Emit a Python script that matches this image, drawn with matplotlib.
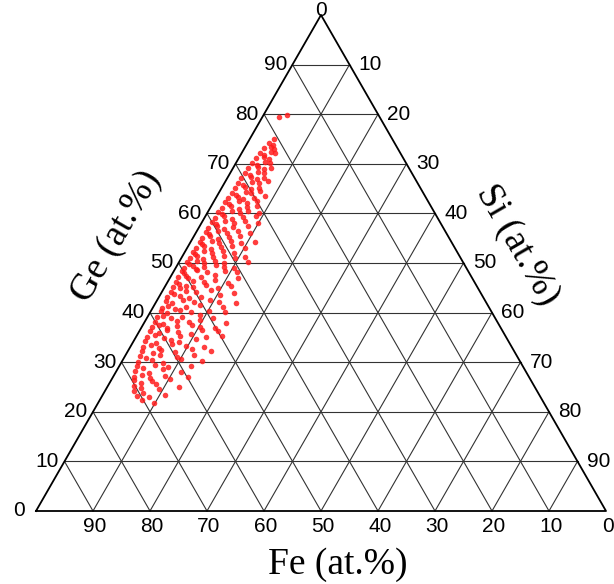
import numpy as np
import matplotlib
matplotlib.use("Agg")
import matplotlib.pyplot as plt

# compositions (at.%), Fe = 100 - Ge - Si
ge_pct = [22.3, 21.8,
          23.1, 22.9, 23.4,
          24.2, 23.7, 24.5,
          25.3, 24.8, 25.6, 25.1,
          26.4, 25.9, 26.2, 26.7,
          27.1, 27.5, 26.8, 27.3, 27.0,
          28.2, 27.9, 28.6, 28.1,
          29.3, 28.8, 29.5, 29.0, 29.2,
          30.1, 30.4, 29.8, 30.6, 30.2,
          31.2, 30.9, 31.5, 31.1, 31.4,
          32.3, 31.9, 32.5, 32.1, 32.7, 32.2,
          33.0, 33.4, 32.8, 33.6, 33.2, 33.1,
          34.2, 33.9, 34.5, 34.1, 34.6,
          35.1, 35.4, 34.8, 35.3, 35.6, 35.0, 35.2,
          36.3, 35.9, 36.5, 36.1, 36.4, 36.2,
          37.0, 37.4, 36.8, 37.2, 37.5, 37.1, 36.9,
          38.2, 37.8, 38.4, 38.1, 38.5, 38.0,
          39.1, 39.4, 38.9, 39.2, 39.6, 39.0,
          40.3, 39.9, 40.5, 40.1, 40.4, 40.2,
          41.0, 41.4, 40.8, 41.2, 41.5, 41.1,
          42.3, 41.9, 42.5, 42.1, 42.6, 42.2, 42.0,
          43.1, 43.4, 42.9, 43.2, 43.5,
          44.2, 43.8, 44.4, 44.1, 44.5, 44.0,
          45.1, 44.9, 45.4, 45.2, 45.5, 45.0, 45.3,
          46.2, 45.8, 46.4, 46.1, 46.5, 46.0,
          47.1, 47.4, 46.9, 47.2, 47.5, 47.0,
          48.3, 47.9, 48.5, 48.1, 48.4, 48.2,
          49.0, 49.4, 48.8, 49.2, 49.5, 49.1, 48.9,
          50.2, 49.8, 50.4, 50.1, 50.5, 50.0, 50.3,
          51.1, 51.4, 50.9, 51.2, 51.5, 51.0, 51.3,
          52.2, 51.8, 52.4, 52.1, 52.5, 52.0,
          53.1, 53.4, 52.9, 53.2, 53.5, 53.0,
          54.2, 53.8, 54.4, 54.1, 54.5, 54.0, 54.3,
          55.1, 55.4, 54.9, 55.2, 55.5,
          56.2, 55.8, 56.4, 56.1, 56.5, 56.0,
          57.1, 57.4, 56.9, 57.2, 57.5,
          58.2, 57.8, 58.4, 58.1, 58.5, 58.0,
          59.1, 59.4, 58.9, 59.2, 59.5,
          60.2, 59.8, 60.4, 60.1, 60.5, 60.0,
          61.1, 61.4, 60.9, 61.2, 61.5,
          62.2, 61.8, 62.4, 62.1, 62.5,
          63.1, 63.4, 62.9, 63.2, 63.5,
          64.2, 63.8, 64.4, 64.1, 64.5,
          65.1, 65.4, 64.9, 65.2,
          66.2, 65.8, 66.4, 66.1, 66.5,
          67.1, 67.4, 66.9, 67.2,
          68.2, 67.8, 68.4, 68.1,
          69.1, 69.4, 68.9, 69.2,
          70.2, 69.8, 70.4, 70.1,
          71.1, 71.4, 70.9,
          72.2, 71.8, 72.4, 72.1,
          73.1, 73.4, 72.9,
          74.2, 73.8,
          75.0,
          79.5, 79.9]

si_pct = [7.5, 9.8,
          6.2, 8.4, 11.0,
          5.1, 7.0, 9.3,
          4.6, 6.1, 8.2, 12.5,
          4.0, 5.4, 7.3, 10.1,
          3.6, 4.9, 6.6, 9.0, 13.2,
          3.3, 5.8, 7.9, 11.4,
          3.0, 4.4, 6.2, 8.7, 12.6,
          2.8, 5.1, 7.4, 10.2, 14.0,
          2.6, 3.9, 6.0, 9.1, 12.0,
          2.4, 4.6, 5.7, 8.3, 11.1, 14.6,
          2.2, 3.5, 5.2, 7.0, 9.8, 13.0,
          2.1, 4.1, 6.4, 8.1, 10.7,
          2.0, 3.2, 5.0, 7.6, 9.4, 12.3, 15.0,
          1.9, 3.7, 4.8, 6.9, 11.0, 13.8,
          1.8, 2.9, 4.5, 6.2, 8.6, 10.3, 12.9,
          1.8, 3.4, 5.6, 7.8, 9.6, 14.4,
          1.7, 2.6, 4.2, 6.0, 8.9, 11.6,
          1.7, 3.1, 5.1, 7.2, 10.1, 13.1,
          1.6, 2.4, 3.9, 5.8, 8.0, 12.2,
          1.6, 2.9, 4.6, 6.6, 9.3, 11.0, 14.0,
          1.5, 3.5, 5.4, 7.4, 10.5,
          1.5, 2.3, 4.2, 6.1, 8.4, 12.8,
          1.5, 2.8, 3.6, 5.0, 7.0, 9.5, 11.6,
          1.4, 2.2, 4.4, 6.4, 8.1, 10.6,
          1.4, 2.6, 3.3, 5.3, 7.6, 12.0,
          1.4, 2.1, 4.0, 5.9, 9.0, 11.1,
          1.4, 2.9, 3.7, 4.9, 6.8, 8.5, 10.2,
          1.4, 2.0, 3.1, 4.5, 6.2, 7.9, 12.0,
          1.5, 2.5, 3.9, 5.5, 7.3, 9.4, 11.0,
          1.5, 2.0, 3.3, 4.8, 6.6, 8.8,
          1.5, 2.7, 4.2, 5.9, 7.7, 10.2,
          1.6, 2.2, 3.6, 5.1, 6.9, 9.0, 11.3,
          1.6, 2.9, 4.5, 6.3, 8.1,
          1.7, 2.4, 3.8, 5.4, 7.2, 9.6,
          1.7, 3.1, 4.6, 6.0, 8.4,
          1.8, 2.6, 4.0, 5.6, 7.5, 9.9,
          1.8, 3.3, 4.9, 6.7, 8.8,
          1.9, 2.8, 4.2, 5.8, 7.0, 9.2,
          2.0, 3.5, 5.1, 6.4, 8.0,
          2.0, 3.0, 4.4, 5.9, 7.6,
          2.1, 3.7, 4.9, 6.6, 8.4,
          2.2, 3.2, 4.6, 5.7, 7.1,
          2.3, 3.9, 5.2, 6.5,
          2.4, 3.4, 4.7, 6.0, 7.4,
          2.5, 4.0, 5.3, 6.4,
          2.6, 3.6, 4.8, 5.9,
          2.7, 4.2, 5.5, 6.6,
          2.8, 3.8, 4.9, 6.0,
          3.0, 4.3, 5.4,
          3.2, 4.1, 5.0, 5.8,
          3.4, 4.6, 5.3,
          3.8, 4.7,
          4.2,
          2.9, 4.0]

tick_vals = [0, 10, 20, 30, 40, 50, 60, 70, 80, 90]

# triangle placement in pixels (left vertex, right vertex x, apex y)
X0, Y0, X1, YTOP = 36, 511, 606, 15
W, H = 614, 584
SQ = np.sqrt(3) / 2
sx = X1 - X0
sy = (Y0 - YTOP) / SQ


def tern(ge, si):
    ge = np.asarray(ge) / 100.0
    si = np.asarray(si) / 100.0
    return si + ge / 2, ge * SQ


fig = plt.figure(figsize=(W / 100, H / 100), dpi=100)
ax = fig.add_axes([0, 0, 1, 1])
ax.set_xlim(-X0 / sx, (W - X0) / sx)
ax.set_ylim(-(H - Y0) / sy, Y0 / sy)
ax.axis("off")

# grid lines
for v in tick_vals[1:]:
    # const Ge (horizontal)
    x, y = tern([v, v], [0, 100 - v])
    ax.plot(x, y, color="#333333", lw=0.8, zorder=1)
    # const Si
    x, y = tern([0, 100 - v], [v, v])
    ax.plot(x, y, color="#333333", lw=0.8, zorder=1)
    # const Fe
    x, y = tern([0, 100 - v], [100 - v, 0])
    ax.plot(x, y, color="#333333", lw=0.8, zorder=1)

# outer triangle
x, y = tern([0, 0, 100, 0], [0, 100, 0, 0])
ax.plot(x, y, color="black", lw=1.3, zorder=2)

# points
px, py = tern(ge_pct, si_pct)
ax.scatter(px, py, s=16, color="#ff1c1c", alpha=0.85, linewidths=0, zorder=3)

tick_font = dict(family="Liberation Sans", fontsize=15)
dx = 1 / sx
dy = 1 / sy

for v in tick_vals:
    # Ge, left edge
    x, y = tern(v, 0)
    ax.text(x - 17 * dx, y, str(v), ha="center", va="center", **tick_font)
    # Fe, bottom edge
    x, y = tern(0, 100 - v)
    ax.text(x + 2 * dx, y - 15 * dy, str(v), ha="center", va="center", **tick_font)
    # Si, right edge
    x, y = tern(100 - v, v)
    if v == 0:
        ax.text(x, y + 4 * dy, "0", ha="center", va="center", **tick_font)
    else:
        ax.text(x + 21 * dx, y, str(v), ha="center", va="center", **tick_font)

title_font = dict(family="Liberation Serif", fontsize=27)
ax.text((338 - X0) * dx, -(565 - Y0) * dy, "Fe (at.%)", ha="center", va="center", **title_font)
ax.text((116 - X0) * dx, (Y0 - 236) * dy, "Ge (at.%)", ha="center", va="center",
        rotation=60, rotation_mode="anchor", **title_font)
ax.text((517 - X0) * dx, (Y0 - 245) * dy, "Si (at.%)", ha="center", va="center",
        rotation=-60, rotation_mode="anchor", **title_font)

fig.savefig("out.png", dpi=100)
